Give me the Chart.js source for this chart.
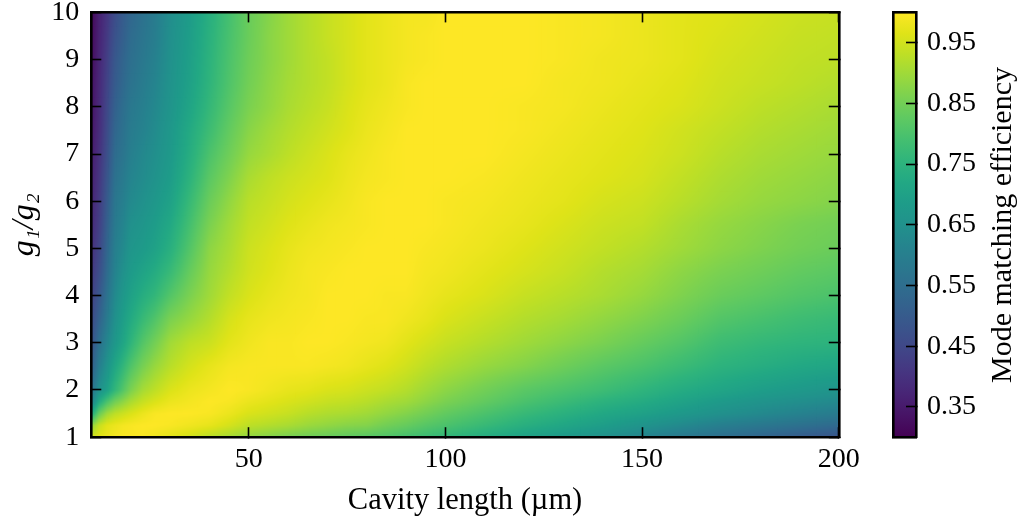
<!DOCTYPE html>
<html>
<head>
<meta charset="utf-8">
<style>
html,body{margin:0;padding:0;background:#fff;width:1019px;height:521px;overflow:hidden}
canvas{position:absolute;top:0}
#main{left:0}
#bar{left:860px}
</style>
<script src="https://cdn.jsdelivr.net/npm/chart.js@4/dist/chart.umd.min.js"></script>
</head>
<body>
<canvas id="main" width="1019" height="521"></canvas>
<canvas id="bar" width="159" height="521"></canvas>
<script>
const xLabel = 'Cavity length (µm)';
const yLabel = 'g₁/g₂';
const barLabel = 'Mode matching efficiency';
const xTicks = [50, 100, 150, 200];
const yTicks = [1, 2, 3, 4, 5, 6, 7, 8, 9, 10];
const barTicks = [0.35, 0.45, 0.55, 0.65, 0.75, 0.85, 0.95];
const barRange = [0.3, 1.0];
const cavityLengths = [10,12,14,16,18,20,23,26,30,35,40,45,50,55,60,65,70,75,80,85,90,95,100,110,120,130,140,150,160,170,180,190,200];
const ratios = [1,1.25,1.5,1.75,2,2.5,3,3.5,4,4.5,5,5.5,6,6.5,7,7.5,8,8.5,9,9.5,10];
// efficiency in percent: one list per cavity length, one entry per ratio
const efficiency = [
[95,88,72,60,56,50,47,45,43,41,39.5,38,37,36,35,34,33.5,33,32,31.5,31],
[97,94,84,73,65,60,56,52,49,46.5,44.5,43,42,41,40,39,38.5,38,37.5,37,36.5],
[98,97,90,80,70,66,62,59,56.5,54.5,53,51.5,50,48.5,47,46,45,44,43,42,41],
[99,98,93,85,76,71.5,67,65,63,61,60,58.5,57.5,56,54.5,53,51.5,50,49,47.5,46],
[99.5,99,94.5,88,81,76,71,69,67,65,63,61.5,60,58.5,57,56,55,53.5,52.5,51,50],
[99.5,99.5,96,91,86,80.5,75.5,72.5,70,68,66.5,65,63,61.5,60,59,58,56.5,55.5,54.5,53],
[99.5,100,98,94,90.5,85.5,81,77,73.5,70.5,68,66.5,65,63.5,62.5,61,60,59,58,57,56],
[98.5,100,99.5,96,93,89,85,80.5,76,73,70,68.5,67,65.5,64.5,63.5,62.5,61.5,60.5,59.5,59],
[97,99.5,100,98,96,92.5,90,86,81,77,74,72,70,68.5,67.5,67,66,65.5,65,64.5,64],
[95,98.5,100,99,98,95.5,93,89,86,83.5,81,79,77,75,73.5,72.5,71,70,69.5,69,68.5],
[92.5,97.5,99.5,100,99,97.5,94.5,92,90,89,88,86,84,82,80,78,76.5,75.5,75,74.5,74],
[90.5,95.5,98,99.5,100,99,97,95.5,93.5,92,91,90,88.5,86.5,84.5,83,81.5,80.5,80,79.5,79],
[88.5,93,96,98,99.5,99.5,98.5,97.5,96,95,94.5,93.5,92.5,91,89,87.5,86,85,84.5,84,84],
[87,92,95,97,98.5,99.5,99.5,98.5,97.5,96.5,96,95,94,93,91,90,88.5,88,87.5,87.5,87],
[85.5,91,94,96,97.5,99.5,99.5,99,98.5,98,97.5,96.5,95.5,94.5,93,92,91,90.5,90,90,90],
[84.5,89.5,92.5,95,97,99.5,100,99.5,99,99,98.5,97.5,96.5,95.5,94.5,93.5,92.5,92,92,92,92],
[83.5,88.5,91.5,94,96,99,100,100,100,99.5,99,98.5,97.5,96.5,96,95,94,93.5,93.5,94,94],
[82.5,87.5,91,93.5,95.5,98.5,99.5,100,100,100,99.5,99,98.5,98,97.5,96.5,96,95.5,95.5,95.5,95.5],
[81.5,87,90,92.5,94.5,97.5,99,99.5,100,100,100,99.5,99.5,99,98.5,98,97.5,97,97,97,97],
[80.5,85,88.5,91,93.5,96.5,98.5,99.5,99.5,100,100,100,100,99.5,99.5,99,98.5,98,98,98,98],
[79,83.5,87,90,92,95,97,98.5,99.5,100,100,100,100,100,100,100,99.5,99.5,99,99,99],
[77.5,81.5,85,88,90,93,95.5,97.5,98.5,99,99.5,100,100,100,100,100,100,100,99.5,99.5,99],
[76,80,83,86,88,91.5,94,96,97.5,98.5,99,99.5,99.5,100,100,100,100,100,100,100,100],
[73,77,80,83,85,89,92,94,96,97,98,98.5,99,99.5,100,100,100,100,100,100,100],
[70,74,77,80,82,87,90,92,94,95.5,96.5,97.5,98,98.5,99,99.5,99.5,100,100,100,100],
[67.5,71.5,74.5,77.5,80,84.5,88,90.5,92.5,94,95,96,97,97.5,98,98.5,99,99,99.5,99.5,99.5],
[65,69,72,75,78,82,86,88.5,91,92,93.5,94.5,95.5,96.5,97,97.5,98,98.5,98.5,99,99],
[61.5,66,70,73,75.5,80,83.5,86.5,89,90.5,92,93.5,94.5,95.5,96,96.5,97,97.5,98,98,98],
[58,63,67.5,70.5,73,77.5,81,84,86.5,88,90,91,92.5,93.5,94.5,95,96,96.5,97,97,97],
[55,60,65,68,71,75,78,81,84,86,88,89,90.5,91.5,92.5,93.5,94.5,95,95.5,96,96.5],
[52.5,58,63,66,69,73.5,76.5,79.5,82.5,84.5,86.5,87.5,89,90,91,92,93,94,94.5,95,95.5],
[50,56,61,64.5,67.5,72,75.5,78,81,83,85,86,88,89,90,91,92,93,93.5,94,94.5],
[48,54,59,63,66,71,75,77,80,82,84,85,87,88,89,90,91,92,93,93.5,94]
];
const hotSpot = [{x: 27, y: 9.8}];

const viridis = ['#440154','#471365','#482475','#463480','#414487','#3b528b','#355f8d','#2f6c8e','#2a788e','#25848e','#21918c','#1e9c89','#22a884','#2fb47c','#44bf70','#5ec962','#7ad151','#9bd93c','#bddf26','#dfe318','#fde725'];
const viridisRGB = viridis.map(h => [1, 3, 5].map(k => parseInt(h.substr(k, 2), 16)));
function colorFor(v) {
  const t = Math.min(1, Math.max(0, (v - barRange[0]) / (barRange[1] - barRange[0]))) * (viridis.length - 1);
  const k = Math.min(viridis.length - 2, Math.floor(t)), f = t - k;
  return viridisRGB[k].map((c, n) => c + (viridisRGB[k + 1][n] - c) * f);
}
function bracket(list, v) {
  let k = 0;
  while (k < list.length - 2 && v > list[k + 1]) k++;
  const f = Math.min(1, Math.max(0, (v - list[k]) / (list[k + 1] - list[k])));
  return [k, f];
}
function sample(x, y) {
  const [i, fx] = bracket(cavityLengths, x), [j, fy] = bracket(ratios, y);
  const a = efficiency[i][j], b = efficiency[i + 1][j], c = efficiency[i][j + 1], d = efficiency[i + 1][j + 1];
  return ((a * (1 - fx) + b * fx) * (1 - fy) + (c * (1 - fx) + d * fx) * fy) / 100;
}
const ny = ratios.length;
const cache = new Map();
// each grid value paints its own cell, with the shading running towards its neighbours
function cellImage(chart, index) {
  if (cache.has(index)) return cache.get(index);
  const i = Math.floor(index / ny), j = index % ny;
  const sx = chart.scales.x, sy = chart.scales.y;
  const cx = sx.getPixelForValue(cavityLengths[i]), cy = sy.getPixelForValue(ratios[j]);
  const x0 = i > 0 ? (cavityLengths[i - 1] + cavityLengths[i]) / 2 : cavityLengths[i];
  const x1 = i < cavityLengths.length - 1 ? (cavityLengths[i + 1] + cavityLengths[i]) / 2 : cavityLengths[i];
  const y0 = j > 0 ? (ratios[j - 1] + ratios[j]) / 2 : ratios[j];
  const y1 = j < ny - 1 ? (ratios[j + 1] + ratios[j]) / 2 : ratios[j];
  const left = sx.getPixelForValue(x0) - 2, right = sx.getPixelForValue(x1) + 2;
  const bottom = sy.getPixelForValue(y0) + 2, top = sy.getPixelForValue(y1) - 2;
  const w = Math.ceil(2 * Math.max(cx - left, right - cx)) + 2;
  const h = Math.ceil(2 * Math.max(cy - top, bottom - cy)) + 2;
  const c = document.createElement('canvas');
  c.width = w; c.height = h;
  const g = c.getContext('2d'), img = g.createImageData(w, h);
  for (let py = 0; py < h; py++) {
    const ay = cy - h / 2 + py + 0.5;
    if (ay < top || ay > bottom) continue;
    const vy = sy.getValueForPixel(ay);
    for (let px = 0; px < w; px++) {
      const ax = cx - w / 2 + px + 0.5;
      if (ax < left || ax > right) continue;
      const col = colorFor(sample(sx.getValueForPixel(ax), vy));
      const o = (py * w + px) * 4;
      img.data[o] = col[0]; img.data[o + 1] = col[1]; img.data[o + 2] = col[2]; img.data[o + 3] = 255;
    }
  }
  g.putImageData(img, 0, 0);
  cache.set(index, c);
  return c;
}
const serif = 'Liberation Serif';
const tickFont = {family: serif, size: 28};
function fixed(size) {
  return s => {
    if (s.isHorizontal()) s.height = size; else s.width = size;
    s.paddingTop = s.paddingBottom = s.paddingLeft = s.paddingRight = 0;
  };
}
function setTicks(list) {
  return s => { s.ticks = list.map(v => ({value: v})); };
}
function frameGrid(len) {
  return {display: true, drawOnChartArea: false, drawTicks: len !== 0, tickLength: -len, tickColor: '#000', tickWidth: 1.6, z: 1};
}
const frameBorder = {display: true, color: '#000', width: 2.6, z: 2};

const points = [];
cavityLengths.forEach((x, i) => ratios.forEach((y, j) => points.push({x, y, v: efficiency[i][j] / 100})));

new Chart(document.getElementById('main'), {
  type: 'scatter',
  data: {datasets: [
    {data: points, clip: 0, pointRadius: 1, pointBorderWidth: 0,
     pointStyle: c => (c.type === 'data' && c.chart.chartArea) ? cellImage(c.chart, c.dataIndex) : 'circle'},
    {data: hotSpot, clip: 0, pointRadius: 1.6, pointBorderWidth: 0, pointBackgroundColor: '#bddf26'}
  ]},
  options: {
    responsive: false, animation: false, events: [],
    layout: {padding: {left: 0, top: 12.4, right: 180.2, bottom: 0}},
    plugins: {legend: {display: false}, tooltip: {enabled: false}},
    scales: {
      x: {type: 'linear', position: 'bottom', min: 10, max: 200, afterFit: fixed(83.8), afterBuildTicks: setTicks(xTicks),
          grid: frameGrid(10), border: frameBorder,
          ticks: {font: tickFont, color: '#000', padding: 16, autoSkip: false, maxRotation: 0, callback: v => String(v)},
          title: {display: true, text: xLabel, font: {family: serif, size: 30.5}, color: '#000', padding: {top: 0, bottom: 2}}},
      y: {type: 'linear', position: 'left', min: 1, max: 10, afterFit: fixed(91.3), afterBuildTicks: setTicks(yTicks),
          grid: frameGrid(10), border: frameBorder,
          ticks: {font: tickFont, color: '#000', padding: 22, autoSkip: false, callback: v => String(v)},
          title: {display: true, text: yLabel, font: {family: serif, size: 32, style: 'italic'}, color: '#000', padding: {top: 5, bottom: 0}}},
      x2: {type: 'linear', position: 'top', min: 10, max: 200, afterFit: fixed(0), afterBuildTicks: setTicks(xTicks),
           grid: frameGrid(10), border: frameBorder, ticks: {display: false}},
      y2: {type: 'linear', position: 'right', min: 1, max: 10, afterFit: fixed(0), afterBuildTicks: setTicks(yTicks),
           grid: frameGrid(10), border: frameBorder, ticks: {display: false}}
    }
  }
});

const barTitle = {
  id: 'barTitle',
  afterDraw(chart) {
    const g = chart.ctx;
    g.save();
    g.translate(143, 225);
    g.rotate(-Math.PI / 2);
    g.font = '30px "' + serif + '"';
    g.fillStyle = '#000';
    g.textAlign = 'center';
    g.textBaseline = 'middle';
    g.fillText(barLabel, 0, 0);
    g.restore();
  }
};
new Chart(document.getElementById('bar'), {
  type: 'bar',
  data: {labels: [''], datasets: [{
    data: [barRange],
    barPercentage: 1, categoryPercentage: 1, borderWidth: 0,
    backgroundColor: c => {
      const a = c.chart.chartArea;
      if (!a) return viridis[10];
      const grad = c.chart.ctx.createLinearGradient(0, a.bottom, 0, a.top);
      viridis.forEach((h, k) => grad.addColorStop(k / (viridis.length - 1), h));
      return grad;
    }
  }]},
  options: {
    responsive: false, animation: false, events: [],
    layout: {padding: {left: 33.5, top: 12.4, right: 0, bottom: 0}},
    plugins: {legend: {display: false}, tooltip: {enabled: false}},
    scales: {
      x: {type: 'category', position: 'bottom', afterFit: fixed(83.8), grid: {display: false}, border: frameBorder, ticks: {display: false}},
      x2: {type: 'category', position: 'top', afterFit: fixed(0), grid: {display: false}, border: frameBorder, ticks: {display: false}},
      y: {type: 'linear', position: 'right', min: barRange[0], max: barRange[1], afterFit: fixed(103), afterBuildTicks: setTicks(barTicks),
          grid: frameGrid(10), border: frameBorder,
          ticks: {font: tickFont, color: '#000', padding: 21, autoSkip: false, callback: v => v.toFixed(2)}},
      y1: {type: 'linear', position: 'left', afterFit: fixed(0), min: 0, max: 1, grid: {display: false}, border: frameBorder, ticks: {display: false}}
    }
  },
  plugins: [barTitle]
});
</script>
</body>
</html>
